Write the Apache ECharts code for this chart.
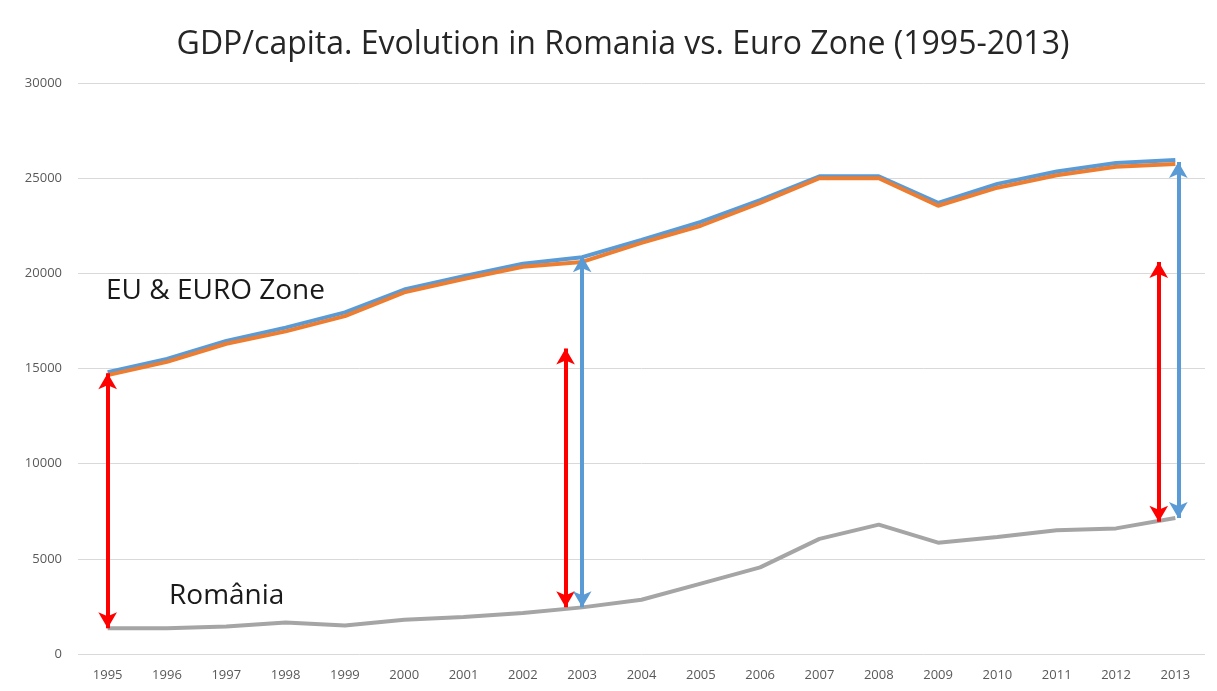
<!DOCTYPE html>
<html>
<head>
<meta charset="utf-8">
<script src="https://cdn.jsdelivr.net/npm/echarts@6/dist/echarts.min.js"></script>
<style>html,body{margin:0;padding:0;background:#fff}#c{width:1217px;height:691px}</style>
</head>
<body>
<div id="c"></div>
<script>
const years = ['1995','1996','1997','1998','1999','2000','2001','2002','2003','2004','2005','2006','2007','2008','2009','2010','2011','2012','2013'];
const euZone   = [14800,15500,16450,17150,17950,19150,19850,20500,20850,21750,22700,23850,25100,25100,23700,24700,25350,25800,25950];
const euroZone = [14650,15350,16300,16950,17750,19000,19700,20350,20600,21600,22500,23700,25000,25000,23550,24500,25150,25600,25750];
const romania  = [1350,1350,1450,1650,1500,1800,1950,2150,2450,2850,3700,4550,6050,6800,5850,6150,6500,6600,7150];
const yTicks = [0,5000,10000,15000,20000,25000,30000];
// arrows: [year position, from value, to value]
const redArrows  = [[1995.0, 1350, 14750], [2002.72, 2450, 16050], [2012.72, 6950, 20600]];
const blueArrows = [[2003.0, 2450, 20900], [2013.05, 7150, 25850]];

const chart = echarts.init(document.getElementById('c'));
function arrowSeries(list, color, width) {
  return list.map(a => ({
    type: 'line', xAxisIndex: 1, data: [], z: 5, silent: true,
    markLine: {
      silent: true, symbol: ['arrow','arrow'], symbolSize: [14, 16],
      label: {show: false},
      lineStyle: {color: color, width: width, type: 'solid'},
      emphasis: {disabled: true},
      data: [[{coord: [a[0], a[1]]}, {coord: [a[0], a[2]]}]]
    }
  }));
}
chart.setOption({
  animation: false,
  title: {
    text: 'GDP/capita. Evolution in Romania vs. Euro Zone (1995-2013)',
    left: 618, top: 24, textAlign: 'center',
    textStyle: {fontFamily: 'Open Sans', fontSize: 32, fontWeight: 'normal', color: '#262626'}
  },
  grid: {left: 78, right: 12, top: 83, bottom: 37},
  xAxis: [{
    type: 'category', data: years, boundaryGap: true,
    axisLine: {show: false}, axisTick: {show: false},
    axisLabel: {color: '#595959', fontSize: 13, fontFamily: 'Open Sans', margin: 15}
  }, {
    type: 'value', min: 1994.5, max: 2013.5, show: false
  }],
  yAxis: {
    type: 'value', min: 0, max: 30000, interval: 5000,
    axisLine: {show: false}, axisTick: {show: false},
    axisLabel: {color: '#595959', fontSize: 13, fontFamily: 'Open Sans', margin: 16,
      formatter: v => String(v)},
    splitLine: {lineStyle: {color: '#d9d9d9', width: 1}}
  },
  series: [
    {name: 'EU', type: 'line', data: euZone, symbol: 'none', lineStyle: {color: '#5b9bd5', width: 4}, z: 2},
    {name: 'Euro Zone', type: 'line', data: euroZone, symbol: 'none', lineStyle: {color: '#ed7d31', width: 4}, z: 3},
    {name: 'România', type: 'line', data: romania, symbol: 'none', lineStyle: {color: '#a5a5a5', width: 4}, z: 3},
    ...arrowSeries(redArrows, '#ff0000', 4),
    ...arrowSeries(blueArrows, '#5b9bd5', 4)
  ],
  graphic: [
    {type: 'text', left: 106, top: 277, style: {text: 'EU & EURO Zone', font: '28px "Open Sans"', fill: '#1a1a1a'}},
    {type: 'text', left: 169, top: 582, style: {text: 'România', font: '28px "Open Sans"', fill: '#1a1a1a'}}
  ]
});
</script>
</body>
</html>
